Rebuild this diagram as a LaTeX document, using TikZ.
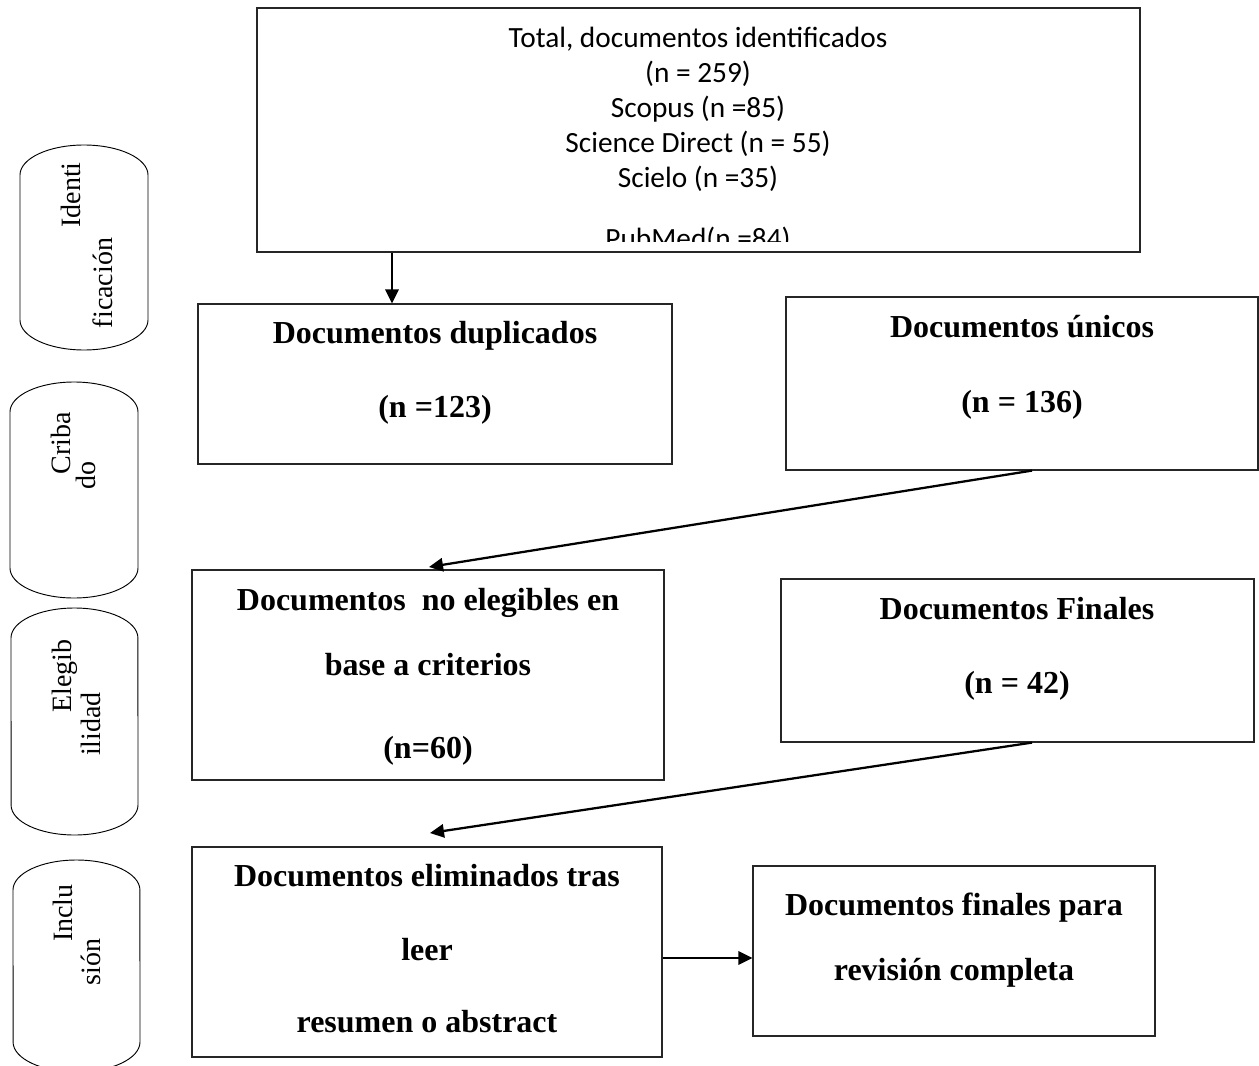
\documentclass[tikz,border=0pt]{standalone}
\usepackage{fontspec}
\setmainfont{Liberation Serif}
\newfontfamily\calfont{Carlito}
\usetikzlibrary{fit,arrows.meta}
\begin{document}
\begin{tikzpicture}[x=0.75pt,y=-0.75pt,
  box/.style={draw=black!85,line width=0.9pt,inner sep=0pt},
  pill/.style={draw=black,line width=0.7pt},
  arr/.style={line width=1.7pt,-{Triangle[length=10.5pt,width=10pt]}},
  btxt/.style={anchor=base,inner sep=0pt,font=\bfseries\fontsize{24}{28}\selectfont},
  ctxt/.style={anchor=base,inner sep=0pt,font=\calfont\fontsize{22}{26}\selectfont},
  ptxt/.style={anchor=base,inner sep=0pt,rotate=90,font=\fontsize{21}{25}\selectfont}]
\useasboundingbox (0,0) rectangle (1259,1066);

% side pills
\draw[pill] (20,175) arc[start angle=180,end angle=0,x radius=48pt,y radius=22.5pt] -- (148,320) arc[start angle=0,end angle=-180,x radius=48pt,y radius=22.5pt] -- cycle;
\draw[pill] (10,412) arc[start angle=180,end angle=0,x radius=48pt,y radius=22.5pt] -- (138,568) arc[start angle=0,end angle=-180,x radius=48pt,y radius=22.5pt] -- cycle;
\draw[pill] (11,638) arc[start angle=180,end angle=0,x radius=47.6pt,y radius=22.5pt] -- (138,805) arc[start angle=0,end angle=-180,x radius=47.6pt,y radius=22.5pt] -- cycle;
\draw[pill] (13,890) arc[start angle=180,end angle=0,x radius=47.6pt,y radius=22.5pt] -- (140,1042) arc[start angle=0,end angle=-180,x radius=47.6pt,y radius=22.5pt] -- cycle;

\node[ptxt] (p1a) at (80,195) {Identi};
\node[ptxt] (p1b) at (112,283) {ficación};
\node[ptxt] (p2a) at (70,443) {Criba};
\node[ptxt] (p2b) at (95,475) {do};
\node[ptxt] (p3a) at (71,676) {Elegib};
\node[ptxt] (p3b) at (100,724) {ilidad};
\node[ptxt] (p4a) at (72,913) {Inclu};
\node[ptxt] (p4b) at (100,962) {sión};

% boxes
\node[box,fit={(257,8) (1140,252)}] (top) {};
\node[box,fit={(198,304) (672,464)}] (dup) {};
\node[box,fit={(786,297) (1258,470)}] (uni) {};
\node[box,fit={(192,570) (664,780)}] (noel) {};
\node[box,fit={(781,579) (1254,742)}] (fin) {};
\node[box,fit={(192,847) (662,1057)}] (elim) {};
\node[box,fit={(753,866) (1155,1036)}] (rev) {};

% top box text
\node[ctxt] (t1) at (698,48) {Total, documentos identificados};
\node[ctxt] (t2) at (698,83) {(n = 259)};
\node[ctxt] (t3) at (698,118) {Scopus (n =85)};
\node[ctxt] (t4) at (698,153) {Science Direct (n = 55)};
\node[ctxt] (t5) at (698,188) {Scielo (n =35)};
\begin{scope}
\clip (257,8) rectangle (1140,242);
\node[ctxt] (t6) at (698,248) {PubMed(n =84)};
\end{scope}

% other texts
\node[btxt] (d1) at (435,343) {Documentos duplicados};
\node[btxt] (d2) at (435,417) {(n =123)};
\node[btxt] (u1) at (1022,337) {Documentos únicos};
\node[btxt] (u2) at (1022,412) {(n = 136)};
\node[btxt] (n1) at (428,610) {Documentos\ \ no elegibles en};
\node[btxt] (n2) at (428,675) {base a criterios};
\node[btxt] (n3) at (428,758) {(n=60)};
\node[btxt] (f1) at (1017,619) {Documentos Finales};
\node[btxt] (f2) at (1017,693) {(n = 42)};
\node[btxt] (e1) at (427,886) {Documentos eliminados tras};
\node[btxt] (e2) at (427,960) {leer};
\node[btxt] (e3) at (427,1032) {resumen o abstract};
\node[btxt] (r1) at (954,915) {Documentos finales para};
\node[btxt] (r2) at (954,980) {revisión completa};

% connectors
\coordinate (a1) at (392,0);
\coordinate (a2s) at (1032,0);
\coordinate (a2e) at (429,567);
\coordinate (a3e) at (430,833);
\coordinate (a4) at (0,958);
\draw[arr] (top.south -| a1) -- (dup.north -| a1);
\draw[arr] (uni.south -| a2s) -- (a2e);
\draw[arr] (fin.south -| a2s) -- (a3e);
\draw[arr] (elim.east |- a4) -- (rev.west |- a4);
\end{tikzpicture}
\end{document}
